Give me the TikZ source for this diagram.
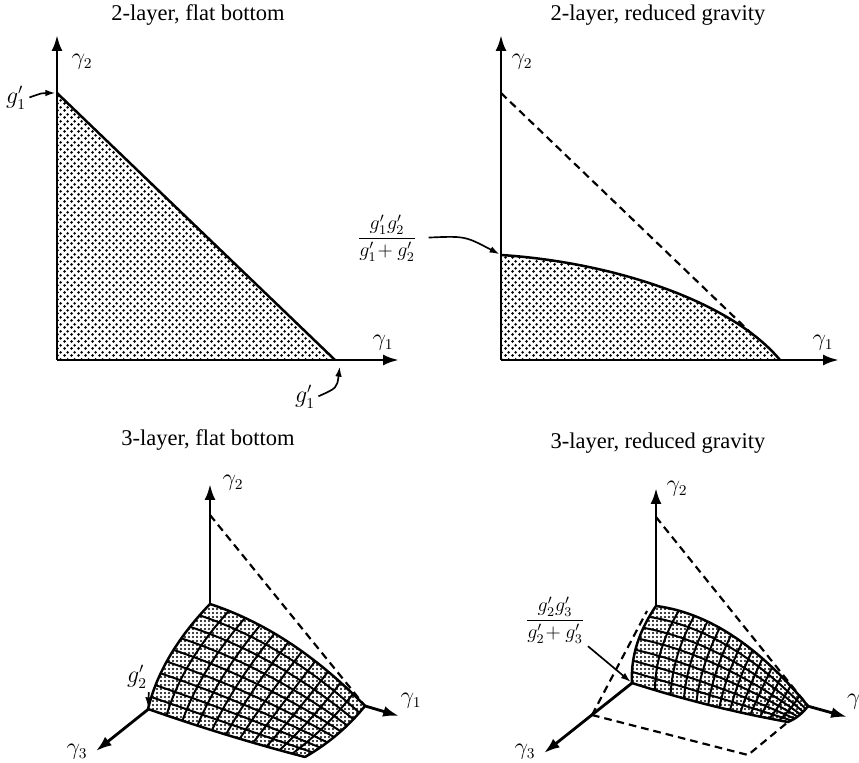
\documentclass[tikz,border=0pt]{standalone}
\usepackage{fontspec}
\setmainfont{Liberation Serif}
\usetikzlibrary{arrows.meta,patterns}

% dot screens of the print
\pgfdeclarepatternformonly{denseDots}{\pgfpointorigin}{\pgfpoint{4.2pt}{4.2pt}}{\pgfpoint{4.2pt}{4.2pt}}{%
  \pgfpathcircle{\pgfpoint{1.05pt}{1.05pt}}{1.0pt}%
  \pgfpathcircle{\pgfpoint{3.15pt}{3.15pt}}{1.0pt}%
  \pgfusepath{fill}}
\pgfdeclarepatternformonly{meshDots}{\pgfpointorigin}{\pgfpoint{2.4pt}{2.4pt}}{\pgfpoint{2.4pt}{2.4pt}}{%
  \pgfpathcircle{\pgfpoint{1.2pt}{1.2pt}}{0.62pt}%
  \pgfusepath{fill}}

% curved patch: corners T,R,L,B and one bulge point per edge
\newcommand{\setcorners}[8]{\def\Tx{#1}\def\Ty{#2}\def\Rx{#3}\def\Ry{#4}\def\Lx{#5}\def\Ly{#6}\def\Bx{#7}\def\By{#8}}
\newcommand{\setbulges}[8]{\def\TRx{#1}\def\TRy{#2}\def\TLx{#3}\def\TLy{#4}\def\LBx{#5}\def\LBy{#6}\def\RBx{#7}\def\RBy{#8}}
\tikzset{declare function={
  qb(\tq,\aq,\cq,\bq)=(1-\tq)^2*\aq+2*\tq*(1-\tq)*\cq+\tq^2*\bq;
  sx(\pu,\pv)=(1-\pv)*qb(\pu,\Tx,\TRx,\Rx)+\pv*qb(\pu,\Lx,\LBx,\Bx)+(1-\pu)*qb(\pv,\Tx,\TLx,\Lx)+\pu*qb(\pv,\Rx,\RBx,\Bx)-(1-\pu)*(1-\pv)*\Tx-\pu*(1-\pv)*\Rx-(1-\pu)*\pv*\Lx-\pu*\pv*\Bx;
  sy(\pu,\pv)=(1-\pv)*qb(\pu,\Ty,\TRy,\Ry)+\pv*qb(\pu,\Ly,\LBy,\By)+(1-\pu)*qb(\pv,\Ty,\TLy,\Ly)+\pu*qb(\pv,\Ry,\RBy,\By)-(1-\pu)*(1-\pv)*\Ty-\pu*(1-\pv)*\Ry-(1-\pu)*\pv*\Ly-\pu*\pv*\By;
}}
\def\patchrim{plot[domain=0:1,samples=30,variable=\uu] ({sx(\uu,0)},{sy(\uu,0)})
  -- plot[domain=0:1,samples=12,variable=\vv] ({sx(1,\vv)},{sy(1,\vv)})
  -- plot[domain=1:0,samples=30,variable=\uu] ({sx(\uu,1)},{sy(\uu,1)})
  -- plot[domain=1:0,samples=20,variable=\vv] ({sx(0,\vv)},{sy(0,\vv)}) -- cycle}
\newcommand{\meshpatch}[3]{%
  \fill[white] \patchrim;
  \fill[meshfill] \patchrim;
  \pgfmathtruncatemacro\rowlast{#1-1}%
  \pgfmathtruncatemacro\collast{#2-1}%
  \foreach \i in {1,...,\rowlast}{%
    \pgfmathsetmacro\vv{\i/#1}%
    \draw[meshline] plot[domain=0:1,samples=30,variable=\uu] ({sx(\uu,\vv)},{sy(\uu,\vv)});
  }%
  \foreach \j in {1,...,\collast}{%
    \pgfmathsetmacro\uu{(\j/#2)^#3}%
    \draw[meshline] plot[domain=0:1,samples=20,variable=\vv] ({sx(\uu,\vv)},{sy(\uu,\vv)});
  }%
  \draw[rim] \patchrim;
}

\begin{document}
\begin{tikzpicture}[x=0.6pt, y=-0.6pt,
  font=\fontsize{13.5}{16}\selectfont,
  >={Latex[length=9.5pt,width=6.5pt]},
  axisline/.style={->, line width=1.7pt},
  rim/.style={line width=1.5pt, line join=round},
  meshline/.style={line width=1.2pt},
  guide/.style={line width=1.3pt, dash pattern=on 4.6pt off 3pt},
  pointer/.style={-{Latex[length=6pt,width=4pt]}, line width=1pt, shorten <=1pt, shorten >=1pt},
  screen/.style={pattern=denseDots},
  meshfill/.style={pattern=meshDots},
  title/.style={inner sep=1pt},
  axlabel/.style={inner sep=1pt},
  ratio/.style={inner sep=1pt, font=\fontsize{11.5}{13}\selectfont}
]
\useasboundingbox (0,0) rectangle (859,763);

% 2-layer, flat bottom
\node[title] (tA) at (198,15) {2-layer, flat bottom};
\coordinate (oA) at (57,360);
\coordinate (yA) at (57,35);
\coordinate (xA) at (399,360);
\coordinate (gA) at (57,93);
\coordinate (hA) at (335,360);
\coordinate (hhA) at (340,365);
\fill[screen] (oA) -- (gA) -- (hA) -- cycle;
\draw[rim] (gA) -- (hA);
\draw[axisline] (oA) -- (yA);
\draw[axisline] (oA) -- (xA);
\node[axlabel] (y2A) at (82,62) {$\gamma_2$};
\node[axlabel] (y1A) at (383,343) {$\gamma_1$};
\node[axlabel] (p1A) at (16,98) {$g'_1$};
\node[axlabel] (q1A) at (305,397) {$g'_1$};
\draw[pointer] (p1A.east) .. controls (42,93) .. (gA);
\draw[pointer] (q1A.east) .. controls (337,388) .. (hhA);

% 2-layer, reduced gravity
\node[title] (tB) at (658,15) {2-layer, reduced gravity};
\coordinate (oB) at (501,360);
\coordinate (yB) at (501,35);
\coordinate (xB) at (839,360);
\coordinate (gB) at (501,93);
\coordinate (kB) at (501,255);
\coordinate (hB) at (780,360);
\coordinate (mB) at (753,335);
\fill[screen] (oB) -- (kB) .. controls (610,262) and (730,300) .. (hB) -- cycle;
\draw[rim] (kB) .. controls (610,262) and (730,300) .. (hB);
\draw[guide] (gB) -- (mB);
\draw[axisline] (oB) -- (yB);
\draw[axisline] (oB) -- (xB);
\node[axlabel] (y2B) at (522,62) {$\gamma_2$};
\node[axlabel] (y1B) at (823,343) {$\gamma_1$};
\node[ratio] (qB) at (387,238) {$\displaystyle\frac{g'_1g'_2}{g'_1\!+g'_2}$};
\draw[pointer, shorten <=6pt] (qB.east) .. controls (465,236) .. (kB);

% 3-layer, flat bottom
\node[title] (tC) at (208,440) {3-layer, flat bottom};
\coordinate (oC) at (210,660);
\coordinate (yC) at (210,484);
\coordinate (x1C) at (399,716);
\coordinate (x3C) at (96,751);
\coordinate (dC) at (210,515);
\coordinate (rC) at (365,706);
\coordinate (lC) at (148,709);
\draw[axisline] (oC) -- (yC);
\draw[axisline] (oC) -- (x1C);
\draw[axisline] (oC) -- (x3C);
\draw[guide] (dC) -- (rC);
\setcorners{210}{604}{365}{706}{148}{709}{305}{757}
\setbulges{292}{631}{161}{655}{228}{737}{340}{737}
\meshpatch{9}{11}{0.9}
\node[axlabel] (y2C) at (233,483) {$\gamma_2$};
\node[axlabel] (y1C) at (411,701) {$\gamma_1$};
\node[axlabel] (y3C) at (77,752) {$\gamma_3$};
\node[axlabel] (p2C) at (137,677) {$g'_2$};
\draw[pointer] (p2C.south east) -- (lC);

% 3-layer, reduced gravity
\node[title] (tD) at (658,443) {3-layer, reduced gravity};
\coordinate (oD) at (656,664);
\coordinate (yD) at (656,488);
\coordinate (x1D) at (847,717);
\coordinate (x3D) at (544,753);
\coordinate (dD) at (656,517);
\coordinate (rD) at (808,706);
\coordinate (lD) at (632,683);
\coordinate (cD) at (592,715);
\coordinate (eD) at (647,611);
\coordinate (wD) at (748,755);
\coordinate (bD) at (788,722);
\draw[axisline] (oD) -- (yD);
\draw[axisline] (oD) -- (x1D);
\draw[axisline] (oD) -- (x3D);
\draw[guide] (dD) -- (rD);
\draw[guide] (cD) -- (eD);
\draw[guide] (cD) -- (wD) -- (bD);
\setcorners{656}{606}{808}{706}{632}{683}{788}{722}
\setbulges{734}{616}{630}{644}{710}{708}{800}{717}
\meshpatch{7}{13}{0.75}
\node[axlabel] (y2D) at (677,489) {$\gamma_2$};
\node[axlabel, anchor=west] (y1D) at (845,702) {$\gamma_1$};
\node[axlabel] (y3D) at (525,752) {$\gamma_3$};
\node[ratio] (qD) at (555,620) {$\displaystyle\frac{g'_2g'_3}{g'_2\!+g'_3}$};
\draw[pointer] (qD.south east) -- (lD);
\end{tikzpicture}
\end{document}
